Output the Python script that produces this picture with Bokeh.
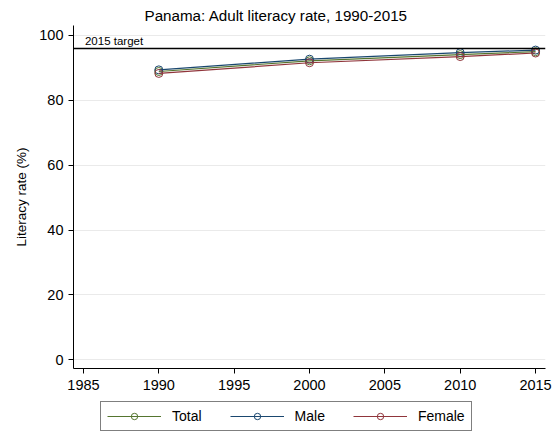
from bokeh.plotting import figure
from bokeh.models import Range1d, Span, Label, Legend, LegendItem, FixedTicker
from bokeh.layouts import column
from bokeh.embed import file_html
from bokeh.resources import INLINE

years = [1990, 2000, 2010, 2015]
total = [88.9, 92.2, 94.1, 95.0]
male = [89.4, 92.7, 94.7, 95.5]
female = [88.3, 91.6, 93.5, 94.6]
target = 96.0
x_ticks = [1985, 1990, 1995, 2000, 2005, 2010, 2015]
y_ticks = [0, 20, 40, 60, 80, 100]

FONT = "Liberation Sans"

p = figure(width=559, height=398, output_backend="svg", toolbar_location=None,
           x_range=Range1d(1984.34, 2015.66), y_range=Range1d(-2.68, 103.08),
           min_border_left=73, min_border_right=14, min_border_top=25, min_border_bottom=30)
p.outline_line_color = None
p.background_fill_color = "white"
p.border_fill_color = "white"

p.title.text = "Panama: Adult literacy rate, 1990-2015"
p.title.text_font = FONT
p.title.text_font_size = "15.2px"
p.title.text_font_style = "normal"
p.title.text_color = "black"
p.title.align = "left"
p.title.offset = 71
p.title.standoff = 4

for ax in (p.xaxis[0], p.yaxis[0]):
    ax.axis_line_color = "black"
    ax.major_tick_line_color = "black"
    ax.minor_tick_line_color = None
    ax.major_tick_out = 5
    ax.major_tick_in = 0
    ax.major_label_text_font = FONT
    ax.major_label_text_font_size = "14.5px"
    ax.major_label_text_color = "black"

p.xaxis.major_label_standoff = 6
p.yaxis.major_label_standoff = 5
p.xaxis.ticker = FixedTicker(ticks=x_ticks)
p.yaxis.ticker = FixedTicker(ticks=y_ticks)
p.yaxis.major_label_orientation = "horizontal"
p.yaxis.axis_label = "Literacy rate (%)"
p.yaxis.axis_label_text_font = FONT
p.yaxis.axis_label_text_font_size = "13.5px"
p.yaxis.axis_label_text_font_style = "normal"
p.yaxis.axis_label_text_color = "black"
p.yaxis.axis_label_standoff = 7

p.xgrid.grid_line_color = None
p.ygrid.grid_line_color = "#eaeaea"
p.ygrid.grid_line_width = 1

span = Span(location=target, dimension="width", line_color="black", line_width=1.5)
p.add_layout(span)
p.add_layout(Label(x=1985.1, y=target, y_offset=1, text="2015 target", text_font=FONT,
                   text_font_size="11.5px", text_color="black", text_baseline="bottom"))

series = [("Total", total, "#55752f"), ("Male", male, "#1a476f"), ("Female", female, "#90353b")]

for name, vals, col in series:
    p.line(years, vals, line_color=col, line_width=1.2)
    p.scatter(years, vals, marker="circle", size=8, fill_color=None,
              line_color=col, line_width=1)

# legend strip below the plot (same series styles, drawn via legend glyphs)
p2 = figure(width=559, height=35, output_backend="svg", toolbar_location=None,
            x_range=Range1d(0, 1), y_range=Range1d(0, 1),
            x_axis_location=None, y_axis_location=None,
            min_border_left=0, min_border_right=0, min_border_top=0, min_border_bottom=0)
p2.outline_line_color = None
p2.grid.grid_line_color = None
p2.background_fill_color = "white"
p2.border_fill_color = "white"

items = []
for name, vals, col in series:
    ln = p2.line(years, vals, line_color=col, line_width=1.2)
    sc = p2.scatter(years, vals, marker="circle", size=8, fill_color=None,
                    line_color=col, line_width=1)
    items.append(LegendItem(label=name, renderers=[ln, sc]))

legend = Legend(items=items, orientation="horizontal", location=(27, 2))
legend.glyph_width = 54
legend.glyph_height = 16
legend.label_height = 16
legend.label_standoff = 11
legend.spacing = 28
legend.padding = 6
legend.margin = 0
legend.border_line_color = "black"
legend.border_line_width = 1
legend.background_fill_color = "white"
legend.label_text_font = FONT
legend.label_text_font_size = "14px"
legend.label_text_color = "black"
p2.add_layout(legend)

layout = column(p, p2, spacing=0)
open("out.html", "w").write(file_html(layout, INLINE))
